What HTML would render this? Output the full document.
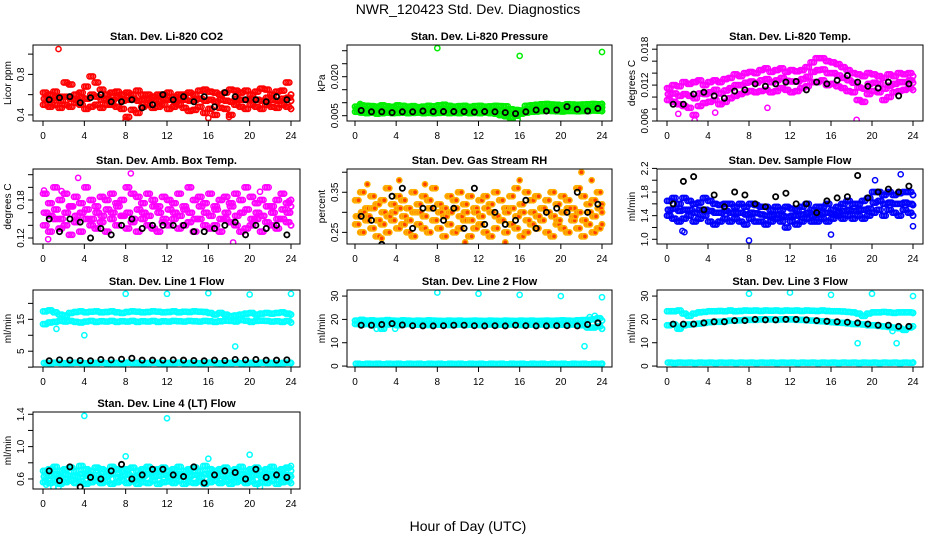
<!DOCTYPE html>
<html><head><meta charset="utf-8">
<style>
html,body{margin:0;padding:0;background:#fff;}
svg{display:block;font-family:"Liberation Sans",Arial,sans-serif;}
</style></head>
<body>
<svg id="chart" width="936" height="540" viewBox="0 0 936 540" xmlns="http://www.w3.org/2000/svg">
<rect x="0" y="0" width="936" height="540" fill="#fff"/>
<text x="468" y="14" font-size="14" text-anchor="middle">NWR_120423  Std. Dev. Diagnostics</text>
<text x="468" y="531" font-size="14" text-anchor="middle">Hour of Day (UTC)</text>
</svg>
<script>
// ---- data ----
const hours = [0,4,8,12,16,20,24];
// P1 CO2
const co2A = [0.62,0.6,0.63,0.58,0.72,0.7,0.6,0.62,0.68,0.78,0.72,0.65,0.6,0.62,0.63,0.6,0.62,0.6,0.64,0.6,0.6,0.58,0.6,0.6,0.62,0.58,0.6,0.6,0.62,0.6,0.64,0.65,0.63,0.62,0.6,0.62,0.65,0.64,0.62,0.64,0.6,0.63,0.66,0.65,0.6,0.63,0.64,0.72,0.6];
const co2B = [0.5,0.48,0.5,0.47,0.5,0.48,0.52,0.5,0.46,0.48,0.5,0.47,0.5,0.5,0.48,0.46,0.38,0.45,0.42,0.48,0.5,0.47,0.48,0.5,0.46,0.48,0.5,0.47,0.44,0.45,0.48,0.42,0.46,0.4,0.47,0.46,0.4,0.5,0.48,0.46,0.5,0.48,0.46,0.5,0.48,0.47,0.5,0.48,0.46];
const co2C = [0.56,0.55,0.57,0.54,0.58,0.56,0.55,0.57,0.56,0.6,0.58,0.55,0.56,0.55,0.57,0.54,0.55,0.56,0.54,0.55,0.56,0.55,0.54,0.56,0.55,0.54,0.56,0.55,0.54,0.55,0.56,0.54,0.55,0.53,0.55,0.54,0.53,0.56,0.55,0.55,0.56,0.55,0.54,0.57,0.55,0.54,0.56,0.57,0.54];
const co2OutX = [1.5,8,16,18];
const co2OutY = [1.05,0.35,0.37,0.38];
const co2K = [0.55,0.57,0.58,0.52,0.57,0.6,0.53,0.53,0.55,0.47,0.5,0.6,0.55,0.58,0.53,0.58,0.48,0.62,0.58,0.55,0.55,0.53,0.58,0.55];
// P2 pressure
const prA = [0.0085,0.009,0.0088,0.0087,0.0085,0.009,0.0086,0.0084,0.009,0.0088,0.0085,0.0087,0.0083,0.0085,0.0088,0.0086,0.009,0.0092,0.0088,0.0085,0.0087,0.0088,0.0084,0.0087,0.0088,0.0085,0.0086,0.0088,0.0087,0.0086,0.0075,0.0072,0.007,0.0088,0.009,0.0092,0.0094,0.0095,0.0093,0.0092,0.009,0.0094,0.0093,0.0092,0.0093,0.0094,0.0095,0.0094,0.0095];
const prB = [0.0065,0.0062,0.006,0.0062,0.0058,0.006,0.0062,0.006,0.0061,0.0062,0.006,0.0061,0.0062,0.006,0.0061,0.006,0.0061,0.0062,0.006,0.0061,0.006,0.0062,0.006,0.0061,0.006,0.0062,0.006,0.0058,0.0052,0.0048,0.0042,0.005,0.0058,0.0062,0.0065,0.0066,0.0068,0.007,0.0068,0.0067,0.0066,0.0068,0.0068,0.0067,0.0068,0.0068,0.007,0.0069,0.0068];
const prC = [0.0075,0.0076,0.0074,0.0075,0.0072,0.0075,0.0074,0.0072,0.0075,0.0074,0.0073,0.0074,0.0072,0.0073,0.0074,0.0073,0.0075,0.0076,0.0074,0.0073,0.0074,0.0075,0.0072,0.0074,0.0074,0.0073,0.0073,0.0073,0.007,0.0065,0.006,0.0062,0.0066,0.0075,0.0078,0.008,0.0081,0.0082,0.0081,0.008,0.0078,0.0081,0.0081,0.008,0.008,0.0081,0.0082,0.0082,0.0082];
const prOutX = [8,16,24,0.5,15.8];
const prOutY = [0.031,0.028,0.0295,0.0095,0.0035];
const prK = [0.007,0.0065,0.0065,0.0062,0.0065,0.0065,0.0068,0.0066,0.0066,0.0066,0.0066,0.0064,0.0066,0.0065,0.0062,0.0058,0.0065,0.0072,0.0068,0.0072,0.0085,0.0075,0.0068,0.0078];
// P3 Li-820 temp
const tpA = [0.0115,0.012,0.0118,0.0125,0.0122,0.0125,0.0128,0.012,0.0125,0.0128,0.0125,0.013,0.0132,0.0138,0.0135,0.014,0.0142,0.014,0.0145,0.0148,0.0142,0.0145,0.0148,0.0142,0.0145,0.0143,0.0145,0.015,0.0158,0.0165,0.0165,0.016,0.0158,0.0155,0.015,0.0145,0.014,0.0138,0.0135,0.014,0.0138,0.0135,0.0132,0.0138,0.0135,0.014,0.0138,0.014,0.0135];
const tpB = [0.0095,0.0092,0.0088,0.0085,0.0082,0.007,0.0085,0.009,0.0092,0.0095,0.0088,0.0092,0.0098,0.0102,0.0105,0.0108,0.011,0.0108,0.011,0.0112,0.0108,0.011,0.0115,0.0112,0.0108,0.011,0.0115,0.0118,0.0125,0.0125,0.0128,0.012,0.0122,0.0118,0.0115,0.011,0.0108,0.0095,0.0092,0.0105,0.011,0.0108,0.0095,0.01,0.0108,0.011,0.0112,0.0115,0.0112];
const tpC = [0.0105,0.0106,0.0102,0.0105,0.0102,0.0098,0.0106,0.0105,0.0108,0.0112,0.0106,0.0111,0.0115,0.012,0.012,0.0124,0.0126,0.0124,0.0128,0.013,0.0125,0.0128,0.0132,0.0127,0.0126,0.0126,0.013,0.0134,0.0142,0.0145,0.0146,0.014,0.014,0.0136,0.0132,0.0128,0.0124,0.0116,0.0114,0.0122,0.0124,0.0122,0.0114,0.0119,0.0122,0.0125,0.0125,0.0128,0.0124];
const tpOutX = [1.1,2.7,18.5,4.7,9.8];
const tpOutY = [0.0072,0.0061,0.0062,0.0074,0.0082];
const tpK = [0.0088,0.0088,0.0105,0.0108,0.0102,0.0098,0.011,0.0112,0.0122,0.0118,0.0122,0.0125,0.0126,0.0112,0.0125,0.0122,0.0128,0.0136,0.0125,0.0118,0.0115,0.0125,0.0102,0.0122];
// P4 ambient box temp
const abA = [0.19,0.175,0.2,0.18,0.19,0.17,0.185,0.175,0.2,0.18,0.17,0.185,0.18,0.19,0.175,0.18,0.2,0.19,0.185,0.175,0.19,0.18,0.17,0.185,0.18,0.175,0.19,0.17,0.2,0.18,0.185,0.175,0.19,0.17,0.18,0.185,0.175,0.19,0.18,0.2,0.185,0.175,0.18,0.2,0.17,0.18,0.19,0.175,0.18];
const abB = [0.14,0.13,0.15,0.135,0.14,0.125,0.145,0.13,0.15,0.14,0.135,0.145,0.13,0.15,0.14,0.155,0.135,0.145,0.13,0.15,0.14,0.135,0.13,0.145,0.14,0.15,0.135,0.14,0.145,0.13,0.15,0.14,0.135,0.14,0.13,0.15,0.145,0.14,0.13,0.135,0.14,0.15,0.13,0.145,0.14,0.135,0.15,0.145,0.14];
const abC = [0.16,0.155,0.165,0.15,0.16,0.17,0.155,0.16,0.165,0.15,0.16,0.155,0.165,0.16,0.17,0.155,0.16,0.15,0.165,0.16,0.155,0.17,0.16,0.15,0.165,0.16,0.155,0.165,0.16,0.15,0.17,0.16,0.155,0.165,0.15,0.16,0.17,0.155,0.16,0.165,0.15,0.16,0.155,0.17,0.16,0.15,0.165,0.16,0.17];
const abOutX = [0.1,3.4,8.5,0.5,18.4,21,1.8,23.8];
const abOutY = [0.195,0.215,0.222,0.118,0.113,0.193,0.194,0.178];
const abK = [0.15,0.13,0.15,0.145,0.12,0.135,0.125,0.14,0.15,0.135,0.14,0.14,0.14,0.14,0.13,0.13,0.135,0.14,0.145,0.125,0.14,0.135,0.14,0.125];
// P5 gas stream RH
const rhA = [0.33,0.35,0.31,0.34,0.32,0.33,0.36,0.32,0.34,0.33,0.31,0.35,0.32,0.34,0.33,0.36,0.32,0.31,0.34,0.33,0.35,0.32,0.34,0.31,0.33,0.34,0.32,0.35,0.33,0.31,0.34,0.36,0.32,0.35,0.33,0.34,0.31,0.33,0.35,0.32,0.34,0.33,0.31,0.36,0.34,0.32,0.33,0.35,0.32];
const rhB = [0.27,0.25,0.28,0.26,0.24,0.27,0.25,0.28,0.26,0.27,0.25,0.24,0.27,0.26,0.25,0.28,0.26,0.24,0.27,0.25,0.26,0.28,0.24,0.26,0.27,0.25,0.24,0.26,0.28,0.25,0.27,0.26,0.24,0.25,0.27,0.26,0.28,0.25,0.24,0.27,0.26,0.25,0.28,0.26,0.24,0.27,0.25,0.26,0.27];
const rhC = [0.29,0.3,0.29,0.31,0.28,0.3,0.29,0.3,0.31,0.29,0.28,0.3,0.3,0.29,0.31,0.28,0.3,0.29,0.3,0.31,0.29,0.3,0.28,0.3,0.29,0.31,0.3,0.29,0.28,0.3,0.31,0.29,0.3,0.28,0.3,0.29,0.31,0.3,0.29,0.28,0.3,0.31,0.29,0.3,0.28,0.3,0.29,0.31,0.3];
const rhOutX = [1.2,4.3,16,22,23,6.8,10.7,14.6,2.6];
const rhOutY = [0.37,0.38,0.38,0.40,0.38,0.37,0.225,0.225,0.235];
const rhK = [0.29,0.28,0.22,0.34,0.36,0.26,0.31,0.31,0.28,0.31,0.26,0.36,0.27,0.30,0.27,0.28,0.33,0.26,0.30,0.31,0.30,0.35,0.30,0.32];
// P6 sample flow
const sfA = [1.65,1.7,1.6,1.7,1.65,1.6,1.62,1.7,1.65,1.6,1.58,1.6,1.6,1.55,1.6,1.55,1.6,1.58,1.55,1.55,1.5,1.55,1.5,1.55,1.52,1.5,1.55,1.6,1.5,1.55,1.55,1.6,1.5,1.55,1.6,1.65,1.6,1.6,1.65,1.7,1.8,1.8,1.75,1.8,1.75,1.78,1.8,1.8,1.75];
const sfB = [1.4,1.35,1.3,1.35,1.4,1.3,1.35,1.4,1.3,1.25,1.3,1.35,1.3,1.35,1.3,1.25,1.35,1.3,1.3,1.25,1.3,1.35,1.3,1.2,1.3,1.25,1.3,1.35,1.3,1.3,1.35,1.3,1.35,1.4,1.35,1.4,1.35,1.4,1.35,1.4,1.45,1.5,1.4,1.5,1.45,1.4,1.5,1.45,1.4];
const sfC = [1.5,1.52,1.48,1.5,1.5,1.45,1.5,1.5,1.48,1.45,1.45,1.48,1.45,1.45,1.45,1.42,1.45,1.44,1.42,1.4,1.4,1.42,1.4,1.38,1.4,1.4,1.42,1.45,1.4,1.42,1.45,1.45,1.42,1.45,1.48,1.5,1.48,1.5,1.5,1.52,1.62,1.65,1.6,1.62,1.6,1.6,1.62,1.6,1.58];
const sfOutX = [8,16,24,20.3,22.8,1.7,1.5];
const sfOutY = [0.98,1.08,1.22,2.0,2.1,1.12,1.14];
const sfK = [1.6,1.98,2.06,1.5,1.75,1.55,1.8,1.75,1.6,1.55,1.72,1.78,1.6,1.6,1.45,1.65,1.7,1.72,2.08,1.7,1.8,1.85,1.8,1.9];
// P7 line 1 flow
const l1A = [17.5,17.8,17.2,16.5,16.2,17,17.3,17.5,17.2,17.4,17.5,17.2,17.3,17.5,17.2,17,17.3,17.5,17.4,17.2,17.3,17.5,17.4,17.2,17.3,17.5,17.2,17.4,17.3,17.5,17.4,17.3,17,16.5,17,16.5,16,16.2,16.5,16.8,17,16.5,16.8,17,16.8,17,17.2,16.8,16.5];
const l1B = [13.5,14,14.2,14.5,14.3,14.5,14.2,14,14.3,14.5,14.2,14.4,14.3,14.5,14.2,14.4,14.3,14.5,14.2,14.4,14.3,14.5,14.2,14.4,14.3,14.5,14.4,14.3,14.5,14.4,14.3,14.5,14.4,14.2,14.4,14.6,14.5,14.3,14.8,14.6,14.2,14.5,14.6,14.5,14.3,14.4,14.2,14.5,14];
const l1C = [1.3,1.2,1.4,1.3,1.2,1.3,1.4,1.3,1.2,1.3,1.3,1.4,1.2,1.3,1.3,1.2,1.4,1.3,1.3,1.2,1.3,1.4,1.3,1.2,1.3,1.3,1.4,1.2,1.3,1.3,1.2,1.3,1.4,1.3,1.2,1.3,1.3,1.4,1.2,1.3,1.3,1.2,1.4,1.3,1.3,1.2,1.3,1.4,1.3];
const l1OutX = [8,12,16,20,24,4,18.6,1.3];
const l1OutY = [23,23,23.2,22.8,23,10,6.5,12];
const l1K = [2.0,2.3,2.2,2.1,2.0,2.4,2.3,2.5,2.8,2.2,2.2,2.2,2.3,2.2,2.1,2.0,2.2,2.1,2.4,2.3,2.4,2.2,2.2,2.3];
// P8 line 2 flow
const l2A = [19.5,19.8,19.5,19.6,19.4,19.5,19.7,19.5,19.4,19.6,19.5,19.3,19.5,19.4,19.6,19.5,19.4,19.3,19.5,19.4,19.5,19.3,19.4,19.5,19.4,19.3,19.5,19.4,19.3,19.5,19.4,19.3,19.5,19.4,19.5,19.3,19.4,19.5,19.4,19.5,19.6,19.5,19.4,19.6,19.7,19.8,20,20.5,19.5];
const l2B = [18,17.8,18,17.5,17.8,16,17.8,18,17.5,17.8,18,17.8,17.7,17.8,17.6,17.8,17.7,17.8,17.6,17.7,17.8,17.6,17.7,17.8,17.6,17.7,17.8,17.6,17.7,17.6,17.8,17.7,17.6,17.8,17.7,17.6,17.8,17.7,17.6,17.8,17.7,17.6,17.8,17.7,17.5,16.5,16.5,17,16];
const l2C = [1,0.8,1,0.9,1,0.8,1,0.9,1,0.8,1,0.9,1,0.8,1,0.9,1,0.8,1,0.9,1,0.8,1,0.9,1,0.8,1,0.9,1,0.8,1,0.9,1,0.8,1,0.9,1,0.8,1,0.9,1,0.8,1,0.9,1,0.8,1,0.9,1];
const l2OutX = [8,12,16,20,24,22.3,22.8,23.3,3.9,2.1];
const l2OutY = [31.5,31,30.5,30,29.5,8.5,21,21.5,16,16];
const l2K = [17.5,17.5,17.8,18.2,17.6,17.3,17.2,17.2,17.3,17.5,17.5,17.3,17.2,17.3,17.2,17.5,17.3,17.2,17.2,17.3,17.3,17.2,17.8,18.5];
// P9 line 3 flow
const l3A = [23.5,23.5,23.8,22.5,21.5,22.5,23,23.2,23.5,23.5,23.6,23.5,23.8,23.5,23.6,23.8,23.7,23.8,23.6,23.8,23.7,23.8,23.6,23.8,23.7,23.8,23.6,23.8,23.7,23.6,23.8,23.6,23.5,23.5,23.4,23.2,23,22.5,21.5,22.5,23,23,23.2,23,22.8,23,23,23,22.8];
const l3B = [17.5,17.8,16,17.5,17.8,18,18.2,18.5,18.8,19,19,19.2,19.5,19.5,19.6,19.8,19.8,19.8,20,20,20,19.8,20,20,20,19.8,19.8,19.6,19.5,19.3,19.2,19,18.8,18.6,18.5,18.3,18,18,17.8,17.5,17.5,17.2,17,16.8,16.5,16.2,15.5,16.5,17];
const l3C = [1.5,1.3,1.5,1.4,1.5,1.3,1.5,1.4,1.5,1.3,1.5,1.4,1.5,1.3,1.5,1.4,1.5,1.3,1.5,1.4,1.5,1.3,1.5,1.4,1.5,1.3,1.5,1.4,1.5,1.3,1.5,1.4,1.5,1.3,1.5,1.4,1.5,1.3,1.5,1.4,1.5,1.3,1.5,1.4,1.5,1.3,1.5,1.4,1.5];
const l3OutX = [8,12,16,20,24,18.6,22.4,22,1.2];
const l3OutY = [31,31.5,30.5,31,30,9.8,9.8,15,16];
const l3K = [18,18,18,18.5,19,19,19.5,19.5,20,19.8,19.8,20,20,19.8,19.5,19.2,19,18.8,18.5,18,17.5,17.5,17,17];
// P10 line 4 (LT) flow
const l4A = [0.7,0.72,0.75,0.7,0.72,0.74,0.7,0.76,0.72,0.7,0.74,0.72,0.7,0.75,0.72,0.7,0.72,0.74,0.7,0.72,0.75,0.7,0.72,0.74,0.7,0.72,0.75,0.7,0.72,0.74,0.7,0.76,0.72,0.7,0.72,0.74,0.7,0.72,0.75,0.7,0.72,0.74,0.7,0.72,0.75,0.7,0.72,0.74,0.7];
const l4B = [0.56,0.55,0.58,0.54,0.56,0.58,0.55,0.57,0.54,0.56,0.58,0.55,0.57,0.54,0.56,0.58,0.55,0.57,0.54,0.56,0.55,0.58,0.54,0.56,0.57,0.55,0.58,0.54,0.56,0.55,0.57,0.54,0.56,0.58,0.55,0.57,0.54,0.56,0.58,0.55,0.57,0.54,0.56,0.55,0.58,0.54,0.56,0.57,0.55];
const l4C = [0.63,0.64,0.66,0.62,0.65,0.64,0.63,0.66,0.64,0.62,0.65,0.63,0.64,0.66,0.62,0.64,0.65,0.63,0.62,0.64,0.66,0.63,0.64,0.65,0.62,0.64,0.66,0.63,0.64,0.65,0.62,0.66,0.64,0.63,0.64,0.65,0.62,0.64,0.66,0.63,0.64,0.65,0.62,0.64,0.66,0.63,0.64,0.65,0.63];
const l4OutX = [4,12,8,20,16,24,1,1.5,21,0.3];
const l4OutY = [1.38,1.35,0.88,0.9,0.85,0.76,0.5,0.5,0.5,0.53];
const l4K = [0.7,0.58,0.75,0.5,0.62,0.6,0.7,0.78,0.6,0.65,0.72,0.72,0.65,0.63,0.75,0.55,0.65,0.7,0.68,0.6,0.72,0.62,0.65,0.62];

// ---- per-panel tick/label arrays ----
const co2Ticks=[0.4,0.6,0.8,1.0], co2Labels=["0.4","","0.8",""];
const prTicks=[0.005,0.010,0.015,0.020,0.025,0.030], prLabels=["0.005","","","0.020","",""];
const tpTicks=[0.006,0.008,0.010,0.012,0.014,0.016,0.018], tpLabels=["0.006","","","0.012","","","0.018"];
const abTicks=[0.12,0.14,0.16,0.18,0.20,0.22], abLabels=["0.12","","","0.18","",""];
const rhTicks=[0.25,0.30,0.35,0.40], rhLabels=["0.25","","0.35",""];
const sfTicks=[1.0,1.2,1.4,1.6,1.8,2.0,2.2], sfLabels=["1.0","","1.4","","1.8","","2.2"];
const l1Ticks=[0,5,10,15,20], l1Labels=["","5","","15",""];
const l23Ticks=[0,10,20,30], l23Labels=["0","10","20","30"];
const l4Ticks=[0.6,0.8,1.0,1.2,1.4], l4Labels=["0.6","","1.0","","1.4"];

// ---- layout ----
const cols=[{l:33,r:300,x0:43,x24:291},{l:347,r:612,x0:355,x24:602},{l:657,r:923,x0:667,x24:913}];
const rows=[{t:45,b:121},{t:169,b:244},{t:290,b:367},{t:412,b:489}];
const panels=[
 {id:'co2',title:'Stan. Dev. Li-820 CO2',yl:'Licor ppm',c:0,r:0,dom:[0.34,1.09],ticks:co2Ticks,labels:co2Labels,col:'#ff0000',s:[co2A,co2B,co2C],ox:co2OutX,oy:co2OutY,k:co2K},
 {id:'pressure',title:'Stan. Dev. Li-820 Pressure',yl:'kPa',c:1,r:0,dom:[0.00296,0.0322],ticks:prTicks,labels:prLabels,col:'#00ee00',s:[prA,prB,prC],ox:prOutX,oy:prOutY,k:prK},
 {id:'li820-temp',title:'Stan. Dev. Li-820 Temp.',yl:'degrees C',c:2,r:0,dom:[0.006,0.0187],ticks:tpTicks,labels:tpLabels,col:'#ff00ff',s:[tpA,tpB,tpC],ox:tpOutX,oy:tpOutY,k:tpK},
 {id:'amb-box-temp',title:'Stan. Dev. Amb. Box Temp.',yl:'degrees C',c:0,r:1,dom:[0.1105,0.229],ticks:abTicks,labels:abLabels,col:'#ff00ff',s:[abA,abB,abC],ox:abOutX,oy:abOutY,k:abK},
 {id:'gas-stream-rh',title:'Stan. Dev. Gas Stream RH',yl:'percent',c:1,r:1,dom:[0.221,0.408],ticks:rhTicks,labels:rhLabels,col:'#ffb000',fill:'#ff4000',s:[rhA,rhB,rhC],ox:rhOutX,oy:rhOutY,k:rhK},
 {id:'sample-flow',title:'Stan. Dev. Sample Flow',yl:'ml/min',c:2,r:1,dom:[0.92,2.19],ticks:sfTicks,labels:sfLabels,col:'#0000ff',s:[sfA,sfB,sfC],ox:sfOutX,oy:sfOutY,k:sfK},
 {id:'line1-flow',title:'Stan. Dev. Line 1 Flow',yl:'ml/min',c:0,r:2,dom:[0.05,24.2],ticks:l1Ticks,labels:l1Labels,col:'#00ffff',s:[l1A,l1B,l1C],ox:l1OutX,oy:l1OutY,k:l1K},
 {id:'line2-flow',title:'Stan. Dev. Line 2 Flow',yl:'ml/min',c:1,r:2,dom:[-0.4,32.6],ticks:l23Ticks,labels:l23Labels,col:'#00ffff',s:[l2A,l2B,l2C],ox:l2OutX,oy:l2OutY,k:l2K},
 {id:'line3-flow',title:'Stan. Dev. Line 3 Flow',yl:'ml/min',c:2,r:2,dom:[-0.4,32.6],ticks:l23Ticks,labels:l23Labels,col:'#00ffff',s:[l3A,l3B,l3C],ox:l3OutX,oy:l3OutY,k:l3K},
 {id:'line4-flow',title:'Stan. Dev. Line 4 (LT) Flow',yl:'ml/min',c:0,r:3,dom:[0.476,1.428],ticks:l4Ticks,labels:l4Labels,col:'#00ffff',s:[l4A,l4B,l4C],ox:l4OutX,oy:l4OutY,k:l4K}
];
const NS='http://www.w3.org/2000/svg';
const svg=document.getElementById('chart');
function mk(tag,attrs,parent){const e=document.createElementNS(NS,tag);for(const k in attrs)e.setAttribute(k,attrs[k]);(parent||svg).appendChild(e);return e;}

panels.forEach(p=>{
 const C=cols[p.c],R=rows[p.r];
 const xs=h=>C.x0+(C.x24-C.x0)*h/24;
 const ys=v=>R.b-(R.b-R.t)*(v-p.dom[0])/(p.dom[1]-p.dom[0]);
 const g=mk('g',{});
 
 
 const clip=mk('clipPath',{id:'clip-'+p.id},g);
 mk('rect',{x:C.l,y:R.t,width:C.r-C.l,height:R.b-R.t},clip);
 const t=mk('text',{x:(C.l+C.r)/2,y:R.t-5,'font-size':11,'font-weight':'bold','text-anchor':'middle'},g);
 t.textContent=p.title;
 
 
 const yt=mk('text',{x:C.l-22,y:(R.t+R.b)/2,'font-size':10,'text-anchor':'middle',transform:`rotate(-90 ${C.l-22} ${(R.t+R.b)/2})`},g);
 yt.textContent=p.yl;
 
 
 // points (each 30-min value drawn as a short smear of markers, like the dense 1-min record)
 const pts=mk('g',{'clip-path':`url(#clip-${p.id})`},g);
 
 
 const smear=[0,0.17,0.34];
 p.s.forEach((arr,si)=>{
  arr.forEach((v,i)=>{
   smear.forEach(dh=>{
    const h=i*0.5+dh+(si===2?0.08:0);
    const c=mk('circle',{cx:xs(Math.min(h,24)),cy:ys(v),r:2.6,fill:p.fill||'none',stroke:p.col,'stroke-width':1.5},pts);
    
    
   });
  });
 });
 p.ox.forEach((h,i)=>{
  const c=mk('circle',{cx:xs(h),cy:ys(p.oy[i]),r:2.6,fill:p.fill||'none',stroke:p.col,'stroke-width':1.5},pts);
  
  
 });
 p.k.forEach((v,i)=>{
  const c=mk('circle',{cx:xs(i+0.6),cy:ys(v),r:2.6,fill:'none',stroke:'#000','stroke-width':1.8},pts);
  
  
 });
 // box
 const bx=mk('rect',{x:C.l,y:R.t,width:C.r-C.l,height:R.b-R.t,fill:'none',stroke:'#000','stroke-width':1},g);
 
 
 // x ticks
 hours.forEach(h=>{
  mk('line',{x1:xs(h),x2:xs(h),y1:R.b,y2:R.b+5,stroke:'#000'},g);
  const tl=mk('text',{x:xs(h),y:R.b+18,'font-size':10,'text-anchor':'middle'},g);
  tl.textContent=h;
  
  
 });
 // y ticks
 p.ticks.forEach((v,i)=>{
  const y=ys(v);
  mk('line',{x1:C.l-5,x2:C.l,y1:y,y2:y,stroke:'#000'},g);
  if(p.labels[i]){
   const tl=mk('text',{x:C.l-9,y:y,'font-size':10,'text-anchor':'middle',transform:`rotate(-90 ${C.l-9} ${y})`},g);
   tl.textContent=p.labels[i];
   
   
  }
 });
});
</script>
</body></html>
